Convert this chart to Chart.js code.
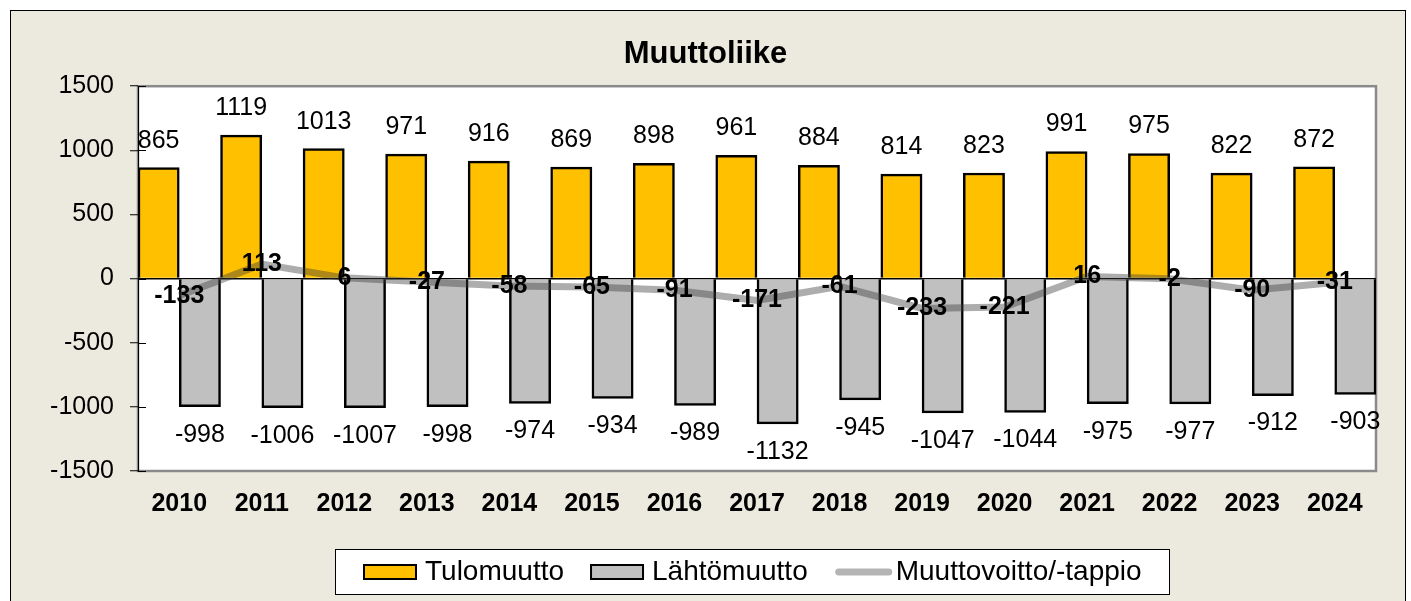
<!DOCTYPE html>
<html lang="fi">
<head>
<meta charset="UTF-8">
<title>Muuttoliike</title>
<script src="https://cdn.jsdelivr.net/npm/chart.js"></script>
<style>
  body { margin: 0; background: #fff; }
  canvas { display: block; }
</style>
</head>
<body>
<canvas id="chart" width="1411" height="601"></canvas>
<script>
  const years = ['2010', '2011', '2012', '2013', '2014', '2015', '2016', '2017',
                 '2018', '2019', '2020', '2021', '2022', '2023', '2024'];
  const tulomuutto = [865, 1119, 1013, 971, 916, 869, 898, 961, 884, 814, 823, 991, 975, 822, 872];
  const lahtomuutto = [-998, -1006, -1007, -998, -974, -934, -989, -1132, -945, -1047, -1044, -975, -977, -912, -903];
  const muuttovoitto = [-133, 113, 6, -27, -58, -65, -91, -171, -61, -233, -221, 16, -2, -90, -31];

  const FONT = "'Liberation Sans', Arial, sans-serif";
  Chart.defaults.font.family = FONT;
  Chart.defaults.color = '#000';

  // page frame + white plot area
  const framePlugin = {
    id: 'frame',
    beforeDraw(chart) {
      const c = chart.ctx, a = chart.chartArea;
      c.save();
      c.fillStyle = '#eceadf';
      c.fillRect(10, 10, 1396, 600);
      c.strokeStyle = '#000';
      c.lineWidth = 1;
      c.strokeRect(10.5, 10.5, 1395, 620);
      c.fillStyle = '#fff';
      c.fillRect(a.left, a.top, a.right - a.left, a.bottom - a.top);
      c.strokeStyle = '#8a8a8a';
      c.lineWidth = 2.5;
      c.strokeRect(a.left, a.top, a.right - a.left, a.bottom - a.top);
      c.restore();
    },
    beforeDatasetsDraw(chart) {
      // tick marks cross the axis
      const c = chart.ctx, y = chart.scales.y, a = chart.chartArea;
      c.save();
      c.strokeStyle = '#000';
      c.lineWidth = 1;
      y.ticks.forEach((t, i) => {
        const py = Math.round(y.getPixelForTick(i)) + 0.5;
        c.beginPath();
        c.moveTo(a.left, py);
        c.lineTo(a.left + 8, py);
        c.stroke();
      });
      c.restore();
    }
  };

  // value labels
  const labelPlugin = {
    id: 'valueLabels',
    afterDatasetsDraw(chart) {
      const c = chart.ctx;
      c.save();
      c.fillStyle = '#000';
      c.textAlign = 'center';
      c.textBaseline = 'middle';
      chart.data.datasets.forEach((ds, di) => {
        const meta = chart.getDatasetMeta(di);
        meta.data.forEach((el, i) => {
          const v = ds.data[i];
          if (ds.type === 'line') {
            c.font = 'bold 25px ' + FONT;
            c.fillText(String(v), el.x, el.y);
          } else {
            c.font = '25px ' + FONT;
            c.fillText(String(v), el.x, v >= 0 ? el.y - 27 : el.y + 28);
          }
        });
      });
      c.restore();
    }
  };

  // boxed legend
  const legendPlugin = {
    id: 'boxLegend',
    afterDraw(chart) {
      const c = chart.ctx;
      const box = { left: 335, top: 549, width: 834, height: 45 };
      const cy = box.top + box.height / 2 + 0.5;
      c.save();
      c.fillStyle = '#fff';
      c.fillRect(box.left, box.top, box.width, box.height);
      c.strokeStyle = '#000';
      c.lineWidth = 1;
      c.strokeRect(box.left + 0.5, box.top + 0.5, box.width, box.height);
      c.font = '28px ' + FONT;
      c.textBaseline = 'middle';
      let x = 364;
      chart.data.datasets.forEach(ds => {
        if (ds.type === 'line') {
          c.strokeStyle = ds.legendColor;
          c.lineWidth = 7;
          c.lineCap = 'round';
          c.beginPath();
          c.moveTo(x + 4, cy);
          c.lineTo(x + 54, cy);
          c.stroke();
          x += 61;
        } else {
          c.fillStyle = ds.backgroundColor;
          c.fillRect(x, cy - 7, 52, 14);
          c.strokeStyle = '#000';
          c.lineWidth = 2;
          c.strokeRect(x, cy - 7, 52, 14);
          x += 61;
        }
        c.fillStyle = '#000';
        c.fillText(ds.label, x, cy);
        x += c.measureText(ds.label).width + 27;
      });
      c.restore();
    }
  };

  new Chart(document.getElementById('chart'), {
    type: 'bar',
    data: {
      labels: years,
      datasets: [
        {
          label: 'Tulomuutto',
          data: tulomuutto,
          backgroundColor: '#ffc000',
          borderColor: '#000',
          borderWidth: 2.5,
          categoryPercentage: 1,
          barPercentage: 1,
          order: 1
        },
        {
          label: 'Lähtömuutto',
          data: lahtomuutto,
          backgroundColor: '#c0c0c0',
          borderColor: '#000',
          borderWidth: 2.5,
          categoryPercentage: 1,
          barPercentage: 1,
          order: 1
        },
        {
          type: 'line',
          label: 'Muuttovoitto/-tappio',
          data: muuttovoitto,
          borderColor: 'rgba(60, 60, 60, 0.42)',
          legendColor: '#b4b4b4',
          borderWidth: 7,
          pointRadius: 0,
          tension: 0,
          fill: false,
          order: 0
        }
      ]
    },
    options: {
      responsive: false,
      animation: false,
      layout: { padding: { left: 35, top: 10, right: 35, bottom: 0 } },
      plugins: {
        legend: { display: false },
        tooltip: { enabled: false },
        title: {
          display: true,
          text: 'Muuttoliike',
          font: { size: 31, weight: 'bold' },
          color: '#000',
          padding: { top: 26, bottom: 13 }
        }
      },
      scales: {
        x: {
          offset: true,
          grid: { display: false, drawTicks: false },
          border: { display: false },
          ticks: { font: { size: 25, weight: 'bold' }, padding: 18, maxRotation: 0 },
          afterFit(s) { s.height = 130; }
        },
        y: {
          min: -1500,
          max: 1500,
          ticks: {
            stepSize: 500,
            font: { size: 25 },
            padding: 16,
            callback: v => String(v)
          },
          grid: {
            color: ctx => ctx.tick && ctx.tick.value === 0 ? '#000' : 'transparent',
            lineWidth: 1.5,
            tickColor: '#000',
            tickLength: 8,
            tickWidth: 1
          },
          border: { display: true, color: '#000', width: 1 },
          afterFit(s) { s.width = 103; }
        }
      }
    },
    plugins: [framePlugin, labelPlugin, legendPlugin]
  });
</script>
</body>
</html>
